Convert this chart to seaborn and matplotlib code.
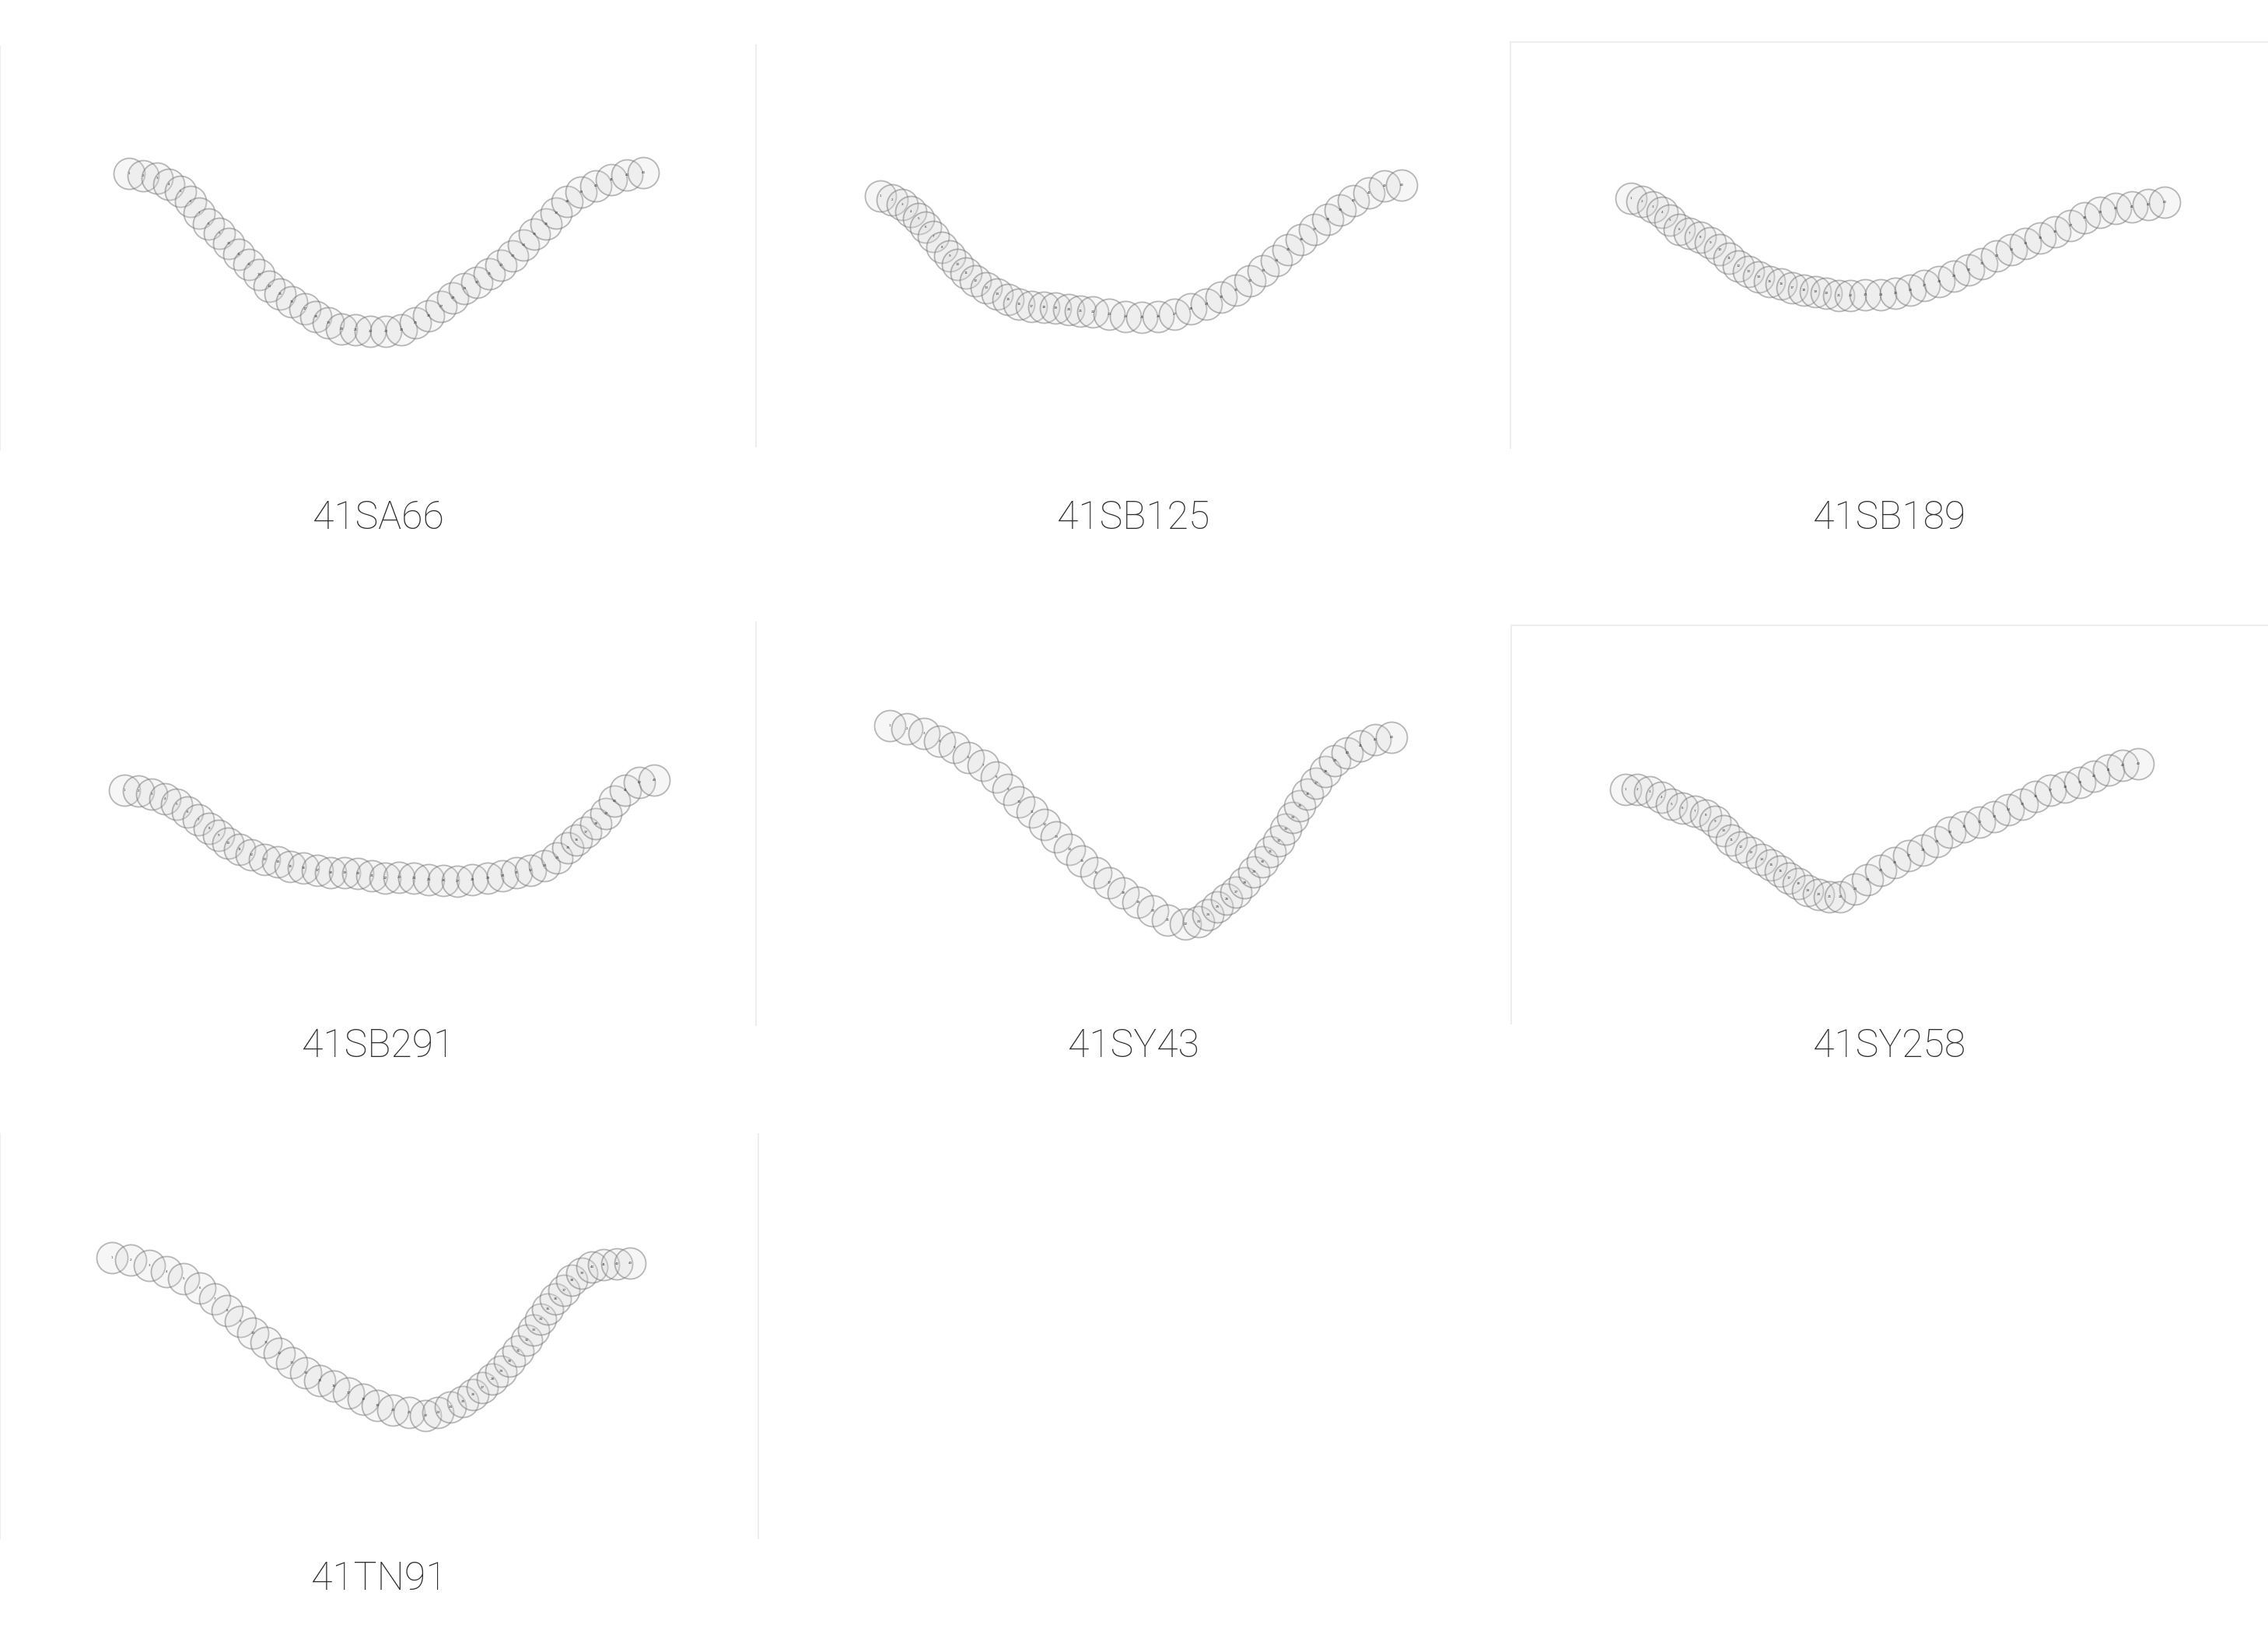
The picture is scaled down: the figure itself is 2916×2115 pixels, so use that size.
import matplotlib
matplotlib.use("Agg")
import matplotlib.pyplot as plt
from matplotlib import font_manager
import pandas as pd
import seaborn as sns

# ---------------- data: circle centres (pixel units) ----------------
names = ["41SA66", "41SB125", "41SB189", "41SB291", "41SY43", "41SY258", "41TN91"]

sa66_x = [166, 184, 202, 217, 232, 245, 256, 268, 282, 294, 307, 320, 333, 346, 360, 375, 392, 406, 422, 439, 457, 476,
          496, 516, 534, 551, 567, 582, 597, 613, 629, 644, 659, 673, 687, 702, 715, 729, 747, 766, 786, 806, 827]
sa66_y = [223, 226, 229, 237, 246, 259, 274, 288, 300, 313, 327, 340, 353, 368, 378, 388, 397, 407, 415, 423, 424, 426,
          426, 424, 415, 406, 394, 383, 371, 363, 352, 341, 329, 315, 301, 288, 274, 259, 247, 239, 231, 225, 222]

sb125_x = [1132, 1147, 1160, 1171, 1181, 1190, 1200, 1211, 1221, 1231, 1242, 1254, 1268, 1282, 1296, 1310, 1326, 1342,
           1357, 1374, 1389, 1405, 1426, 1447, 1468, 1489, 1510, 1531, 1551, 1570, 1589, 1607, 1624, 1641, 1656, 1673,
           1690, 1707, 1723, 1740, 1760, 1780, 1802]
sb125_y = [252, 257, 263, 272, 281, 292, 304, 318, 329, 340, 351, 361, 370, 378, 385, 391, 394, 395, 396, 398, 400, 401,
           404, 407, 408, 407, 404, 397, 391, 382, 373, 361, 348, 335, 321, 308, 295, 282, 270, 258, 248, 239, 238]

sb189_x = [2097, 2111, 2125, 2137, 2147, 2159, 2172, 2186, 2199, 2211, 2223, 2235, 2248, 2261, 2275, 2290, 2304, 2319,
           2334, 2348, 2364, 2379, 2398, 2418, 2437, 2456, 2474, 2493, 2512, 2531, 2548, 2567, 2586, 2604, 2623, 2642,
           2662, 2680, 2700, 2720, 2741, 2762, 2783]
sb189_y = [255, 259, 266, 273, 283, 295, 300, 305, 312, 321, 332, 342, 349, 356, 362, 365, 370, 373, 375, 377, 380, 380,
           379, 379, 377, 373, 367, 362, 355, 347, 339, 329, 321, 313, 306, 298, 290, 280, 273, 268, 266, 263, 260]

sb291_x = [160, 178, 195, 212, 227, 241, 255, 269, 281, 293, 308, 323, 340, 357, 373, 390, 408, 425, 443, 460, 478, 495,
           513, 532, 551, 570, 588, 607, 627, 646, 664, 682, 700, 716, 730, 741, 753, 766, 779, 790, 804, 822, 841]
sb291_y = [1016, 1017, 1021, 1027, 1034, 1044, 1054, 1065, 1074, 1084, 1092, 1099, 1105, 1108, 1114, 1116, 1119, 1122,
           1122, 1123, 1126, 1129, 1128, 1129, 1131, 1132, 1133, 1131, 1129, 1126, 1122, 1119, 1113, 1103, 1090, 1080,
           1070, 1059, 1046, 1030, 1016, 1006, 1003]

sy43_x = [1144, 1166, 1188, 1208, 1227, 1245, 1264, 1281, 1296, 1310, 1327, 1343, 1358, 1375, 1391, 1409, 1426, 1444,
          1463, 1482, 1501, 1524, 1541, 1553, 1565, 1577, 1589, 1600, 1612, 1623, 1633, 1644, 1653, 1662, 1671, 1681,
          1692, 1704, 1716, 1732, 1749, 1768, 1789]
sy43_y = [933, 937, 943, 953, 961, 974, 984, 999, 1015, 1031, 1044, 1060, 1076, 1092, 1107, 1122, 1135, 1148, 1160,
          1171, 1183, 1188, 1185, 1176, 1166, 1156, 1147, 1135, 1121, 1108, 1095, 1081, 1066, 1051, 1036, 1021, 1007,
          992, 978, 968, 959, 951, 948]

sy258_x = [2090, 2105, 2121, 2136, 2149, 2163, 2179, 2193, 2205, 2216, 2226, 2238, 2251, 2265, 2277, 2289, 2300, 2312,
           2324, 2338, 2352, 2366, 2385, 2401, 2418, 2436, 2454, 2472, 2490, 2507, 2525, 2545, 2564, 2582, 2600, 2617,
           2636, 2655, 2674, 2692, 2711, 2729, 2749]
sy258_y = [1015, 1015, 1018, 1025, 1034, 1039, 1043, 1048, 1056, 1068, 1080, 1089, 1096, 1105, 1112, 1120, 1129, 1136,
           1145, 1150, 1153, 1153, 1143, 1131, 1119, 1109, 1100, 1093, 1082, 1070, 1063, 1057, 1050, 1041, 1034, 1024,
           1016, 1012, 1006, 998, 990, 984, 982]

tn91_x = [144, 168, 192, 214, 236, 257, 276, 292, 309, 325, 342, 359, 375, 393, 411, 429, 448, 467, 485, 505, 526, 547,
          563, 579, 595, 608, 620, 633, 644, 655, 666, 677, 686, 695, 704, 714, 725, 735, 748, 761, 776, 793, 810]
tn91_y = [1617, 1620, 1627, 1635, 1644, 1656, 1670, 1685, 1699, 1714, 1726, 1740, 1752, 1765, 1775, 1782, 1791, 1799,
          1807, 1813, 1816, 1820, 1816, 1809, 1802, 1793, 1784, 1773, 1763, 1750, 1737, 1723, 1710, 1696, 1683, 1670,
          1659, 1646, 1637, 1629, 1626, 1625, 1624]

series = [(sa66_x, sa66_y), (sb125_x, sb125_y), (sb189_x, sb189_y), (sb291_x, sb291_y),
          (sy43_x, sy43_y), (sy258_x, sy258_y), (tn91_x, tn91_y)]

# ---------------- layout (figure pixels) ----------------
W, H = 2916, 2115
panel_boxes = [  # x0, x1, y0, y1
    (0, 972, 60, 578), (972, 1943, 58, 574), (1942, 2916, 54, 576),
    (0, 972, 802, 1318), (972, 1943, 800, 1318), (1943, 2916, 804, 1316),
    (0, 975, 1458, 1978),
]
panel_spines = [("left",), ("left", "right"), ("left", "top"),
                (), ("left",), ("left", "top"),
                ("left", "right")]
label_y = [666, 666, 666, 1345, 1345, 1345, 2030]

sns.set_theme(style="white")
plt.rcParams["font.family"] = ["Roboto", "DejaVu Sans"]

# pick the lightest installed Roboto face for the captions
label_font = None
best_w = 1000
for f in font_manager.fontManager.ttflist:
    if f.name == "Roboto" and "Italic" not in f.fname and "italic" not in f.style:
        w = f.weight if isinstance(f.weight, int) else 400
        if w < best_w and w >= 200:
            best_w = w
            label_font = f.fname
label_prop = (font_manager.FontProperties(fname=label_font, size=36) if label_font
              else font_manager.FontProperties(family="Roboto", weight="light", size=36))

fig = plt.figure(figsize=(W / 100, H / 100), dpi=100)
fig.patch.set_facecolor("white")

face_rgba = (0.84, 0.84, 0.84, 0.22)
edge_rgba = (0.45, 0.45, 0.45, 0.50)

for i, ((xs, ys), (x0, x1, y0, y1)) in enumerate(zip(series, panel_boxes)):
    ax = fig.add_axes([x0 / W, 1 - y1 / H, (x1 - x0) / W, (y1 - y0) / H])
    df = pd.DataFrame({"x": xs, "y": ys, "n": range(1, len(xs) + 1)})
    sns.scatterplot(data=df, x="x", y="y", ax=ax, s=830, marker="o", linewidth=1.3, legend=False)
    coll = ax.collections[-1]
    coll.set_facecolor(face_rgba)
    coll.set_edgecolor(edge_rgba)
    for _, r in df.iterrows():
        ax.text(r["x"], r["y"], str(int(r["n"])), fontsize=3, color="#333333",
                ha="center", va="center", family="DejaVu Sans")
    ax.set_xlim(x0, x1)
    ax.set_ylim(y1, y0)
    ax.set_xticks([])
    ax.set_yticks([])
    ax.set_xlabel("")
    ax.set_ylabel("")
    ax.set_facecolor("white")
    for side, sp in ax.spines.items():
        sp.set_visible(side in panel_spines[i])
        sp.set_color("#eeeeee")
        sp.set_linewidth(1.5)
    cx = (x0 + x1) / 2
    fig.text(cx / W, 1 - label_y[i] / H, names[i], ha="center", va="center",
             fontproperties=label_prop, color="#2e2e2e")

fig.savefig("out.png", dpi=100, facecolor="white")
